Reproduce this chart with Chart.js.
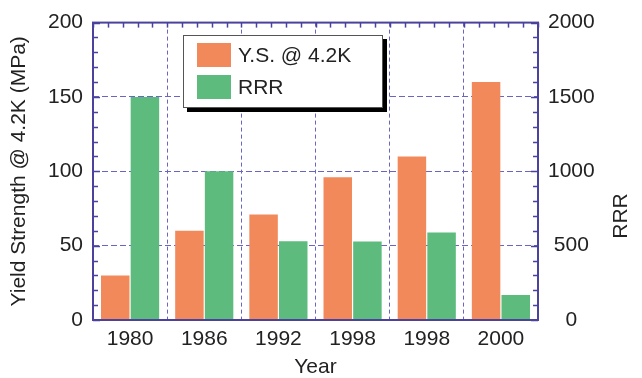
<!DOCTYPE html>
<html>
<head>
<meta charset="utf-8">
<script src="https://cdn.jsdelivr.net/npm/chart.js@4"></script>
<style>
  html, body { margin: 0; padding: 0; background: #fff; }
  #wrap { width: 642px; height: 378px; }
</style>
</head>
<body>
<div id="wrap"><canvas id="myChart" width="642" height="378"></canvas></div>
<script>
// values
const years = ['1980', '1986', '1992', '1998', '1998', '2000'];
const yieldStrength = [30, 60, 71, 96, 110, 160];   // MPa, left axis
const rrr = [1500, 1000, 530, 528, 588, 168];       // right axis
const leftTicks = [0, 50, 100, 150, 200];
const rightTicks = [0, 500, 1000, 1500, 2000];

const orange = '#f2895b';
const green = '#5dbb7d';
const frameColor = '#4a429c';
const gridColor = '#6a64c2';
const textColor = '#222';
const fontFamily = '"Liberation Sans", Arial, sans-serif';

// frame, inward minor ticks, legend box with shadow, right-hand title
const decor = {
    id: 'decor',
    afterDatasetsDraw(chart) {
        const ctx = chart.ctx;
        const a = chart.chartArea;
        const y = chart.scales.y;
        ctx.save();
        ctx.strokeStyle = frameColor;
        ctx.lineWidth = 1.5;
        // minor ticks left/right every 10 MPa
        for (let v = 0; v <= 200; v += 10) {
            const py = Math.round(y.getPixelForValue(v)) + 0.5;
            const len = v % 50 === 0 ? 7 : 5;
            ctx.beginPath();
            ctx.moveTo(a.left, py); ctx.lineTo(a.left + len, py);
            ctx.moveTo(a.right, py); ctx.lineTo(a.right - len, py);
            ctx.stroke();
        }
        // top ticks, five per category
        const w = (a.right - a.left) / years.length;
        for (let i = 0; i <= years.length * 5; i++) {
            const px = Math.round(a.left + i * w / 5) + 0.5;
            ctx.beginPath();
            ctx.moveTo(px, a.top); ctx.lineTo(px, a.top + 5);
            ctx.stroke();
        }
        // frame
        ctx.lineWidth = 2;
        ctx.strokeRect(a.left, a.top, a.right - a.left, a.bottom - a.top);
        ctx.restore();

        // legend
        const lx = 183, ly = 35, lw = 200, lh = 73;
        ctx.save();
        ctx.fillStyle = '#000';
        ctx.fillRect(lx + 4, ly + 4, lw, lh);
        ctx.fillStyle = '#fff';
        ctx.fillRect(lx, ly, lw, lh);
        ctx.strokeStyle = '#555';
        ctx.lineWidth = 1;
        ctx.strokeRect(lx + 0.5, ly + 0.5, lw - 1, lh - 1);
        ctx.font = '21px ' + fontFamily;
        ctx.textBaseline = 'middle';
        chart.data.datasets.forEach(function(ds, i) {
            const sy = ly + 8 + i * 32;
            ctx.fillStyle = ds.backgroundColor;
            ctx.fillRect(lx + 14, sy, 34, 24);
            ctx.fillStyle = textColor;
            ctx.fillText(ds.label, lx + 55, sy + 13);
        });
        ctx.restore();

        // right axis title, reading bottom to top
        ctx.save();
        ctx.translate(621, 216);
        ctx.rotate(-Math.PI / 2);
        ctx.font = '21px ' + fontFamily;
        ctx.fillStyle = textColor;
        ctx.textAlign = 'center';
        ctx.textBaseline = 'middle';
        ctx.fillText('RRR', 0, 0);
        ctx.restore();
    }
};

const config = {
    type: 'bar',
    data: {
        labels: years,
        datasets: [
            { label: 'Y.S. @ 4.2K', data: yieldStrength, backgroundColor: orange, yAxisID: 'y' },
            { label: 'RRR', data: rrr, backgroundColor: green, yAxisID: 'y2' }
        ]
    },
    options: {
        responsive: false,
        animation: false,
        layout: { padding: { top: 20 } },
        categoryPercentage: 0.8,
        barPercentage: 0.96,
        plugins: { legend: { display: false }, tooltip: { enabled: false } },
        scales: {
            x: {
                afterFit(s) { s.height = 58; },
                grid: { color: gridColor, lineWidth: 1, drawTicks: false },
                border: { display: false, dash: [4, 3] },
                ticks: { color: textColor, padding: 7, font: { family: fontFamily, size: 21 } },
                title: { display: true, text: 'Year', color: textColor, padding: 0,
                         font: { family: fontFamily, size: 21, lineHeight: 1 } }
            },
            y: {
                position: 'left',
                min: 0, max: 200,
                afterFit(s) { s.width = 93; },
                afterBuildTicks(s) { s.ticks = leftTicks.map(v => ({ value: v })); },
                grid: {
                    color: c => (c.tick && (c.tick.value === 0 || c.tick.value === 200)) ? 'rgba(0,0,0,0)' : gridColor,
                    drawTicks: false
                },
                border: { display: false, dash: [6, 3] },
                ticks: { color: textColor, padding: 10, callback: v => String(v),
                         font: { family: fontFamily, size: 21 } },
                title: { display: true, text: 'Yield Strength @ 4.2K (MPa)', color: textColor, padding: 9,
                         font: { family: fontFamily, size: 21, lineHeight: 1 } }
            },
            y2: {
                position: 'right',
                min: 0, max: 2000,
                afterFit(s) { s.width = 104; },
                afterBuildTicks(s) { s.ticks = rightTicks.map(v => ({ value: v })); },
                grid: { display: false, drawTicks: false },
                border: { display: false },
                ticks: { color: textColor, padding: 10, crossAlign: 'center', callback: v => String(v),
                         font: { family: fontFamily, size: 21 } }
            }
        }
    },
    plugins: [decor]
};

new Chart(document.getElementById('myChart'), config);
</script>
</body>
</html>
